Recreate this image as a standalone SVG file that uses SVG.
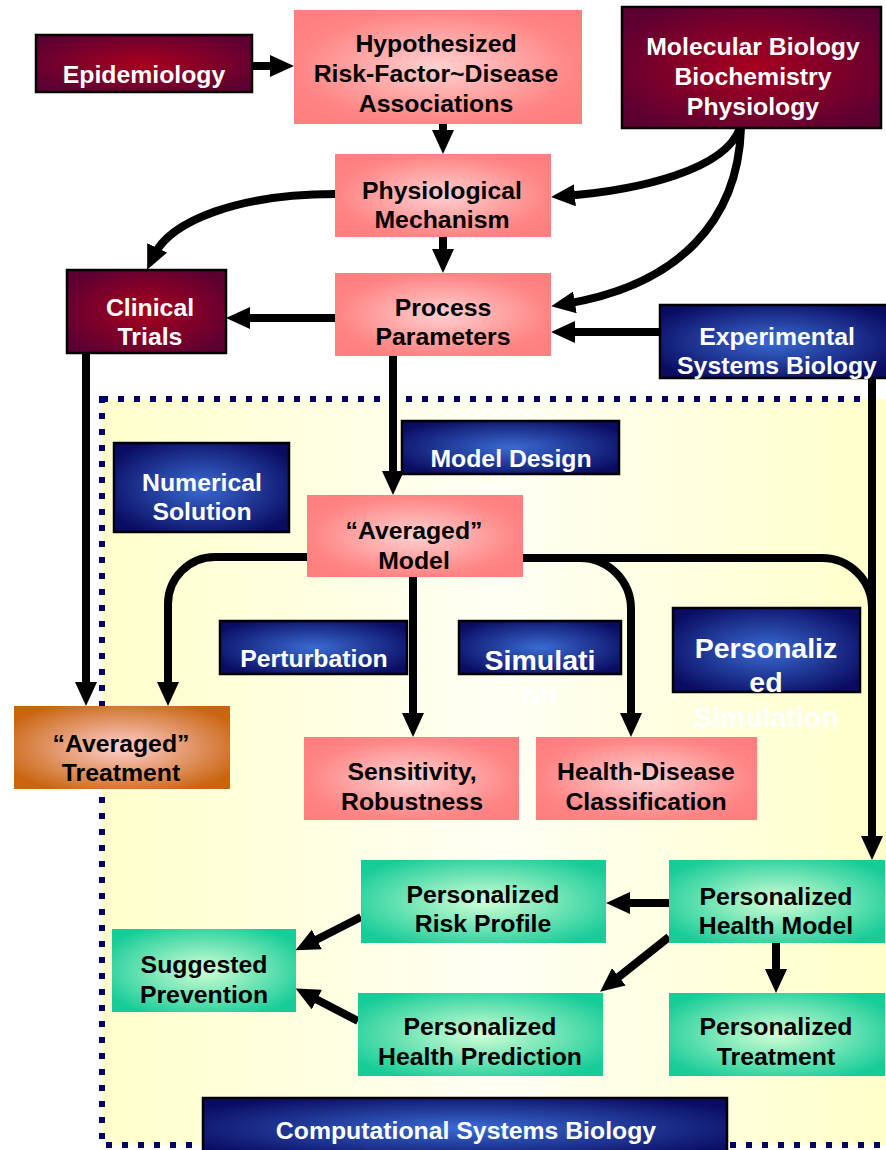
<svg xmlns="http://www.w3.org/2000/svg" width="886" height="1150" viewBox="0 0 886 1150">
<defs>
<radialGradient id="gPink" cx="0.5" cy="0.5" r="0.6"><stop offset="0" stop-color="#ffd0d0"/><stop offset="0.8" stop-color="#ff8585"/><stop offset="1" stop-color="#ff7f7f"/></radialGradient>
<radialGradient id="gMaroon" cx="0.5" cy="0.5" r="0.6"><stop offset="0" stop-color="#a8001e"/><stop offset="1" stop-color="#5c0032"/></radialGradient>
<radialGradient id="gBlue" cx="0.5" cy="0.5" r="0.6"><stop offset="0" stop-color="#3a6bd2"/><stop offset="1" stop-color="#0a0c62"/></radialGradient>
<radialGradient id="gGreen" cx="0.5" cy="0.5" r="0.6"><stop offset="0" stop-color="#d2ffd6"/><stop offset="1" stop-color="#18cc98"/></radialGradient>
<radialGradient id="gOrange" cx="0.5" cy="0.5" r="0.6"><stop offset="0" stop-color="#ffd0d0"/><stop offset="1" stop-color="#c9640f"/></radialGradient>
<linearGradient id="gYellow" x1="0" y1="0" x2="1" y2="0"><stop offset="0" stop-color="#ffffcc"/><stop offset="0.5" stop-color="#fffff4"/><stop offset="1" stop-color="#ffffc8"/></linearGradient>
<marker id="arr" viewBox="0 0 24 22" refX="10" refY="11" markerWidth="24" markerHeight="22" markerUnits="userSpaceOnUse" orient="auto"><path d="M0,0 L24,11 L0,22 z" fill="#000"/></marker>
<style>
.t{font-family:"Liberation Sans",Arial,sans-serif;font-weight:bold;font-size:24.8px;text-anchor:middle}
.k{fill:#000}
.w{fill:#fff}
.big{font-size:28.5px}
.pink{fill:url(#gPink)}
.maroon{fill:url(#gMaroon);stroke:#000;stroke-width:2.5}
.blue{fill:url(#gBlue);stroke:#000;stroke-width:2.5}
.green{fill:url(#gGreen)}
.orange{fill:url(#gOrange)}
.c{fill:none;stroke:#000;stroke-width:8}
.a{marker-end:url(#arr)}
</style>
</defs>
<rect width="886" height="1150" fill="#fff"/>
<g id="frame">
<rect x="102" y="399" width="800" height="746" fill="url(#gYellow)" stroke="#000066" stroke-width="6" stroke-dasharray="6 10"/>
</g>
<g id="connectors">
<path class="c a" d="M252,66 L280,66"/>
<path class="c a" d="M443,124 L443,140"/>
<path class="c a" d="M443,237 L443,259"/>
<path class="c a" d="M335,318 L240,318"/>
<path class="c a" d="M335,194 C240,194 170,220 153,257"/>
<path class="c a" d="M740,128 C725,170 640,190 565,196"/>
<path class="c a" d="M741,128 C738,220 680,285 565,304"/>
<path class="c a" d="M660,332 L565,332"/>
<path class="c a" d="M393,356 L393,481"/>
<path class="c a" d="M86,353 L86,692"/>
<path class="c a" d="M307,557 L215,557 A47,47 0 0 0 168,604 L168,692"/>
<path class="c a" d="M413,577 L413,723"/>
<path class="c a" d="M522,558 L580,558 A51,51 0 0 1 631,609 L631,723"/>
<path class="c" d="M580,558 L822,558 A50,50 0 0 1 872,608"/>
<path class="c a" d="M872,378 L872,846"/>
<path class="c a" d="M669,903 L620,903"/>
<path class="c a" d="M669,937 L611,983"/>
<path class="c a" d="M776,943 L776,979"/>
<path class="c a" d="M361,917 L308,944"/>
<path class="c a" d="M358,1021 L308,995"/>
</g>
<g id="epidemiology"><rect class="maroon" x="36" y="35" width="216" height="57"/><text class="t w" x="144" y="83">Epidemiology</text></g>
<g id="hypothesized"><rect class="pink" x="294" y="10" width="288" height="114"/><text class="t k" x="436" y="52">Hypothesized</text><text class="t k" x="436" y="82">Risk-Factor~Disease</text><text class="t k" x="436" y="112">Associations</text></g>
<g id="molecular"><rect class="maroon" x="622" y="7" width="259" height="121"/><text class="t w" x="753" y="55">Molecular Biology</text><text class="t w" x="753" y="85">Biochemistry</text><text class="t w" x="753" y="115">Physiology</text></g>
<g id="physiological"><rect class="pink" x="335" y="154" width="216" height="83"/><text class="t k" x="442" y="199">Physiological</text><text class="t k" x="442" y="228">Mechanism</text></g>
<g id="process"><rect class="pink" x="335" y="273" width="216" height="83"/><text class="t k" x="443" y="316">Process</text><text class="t k" x="443" y="345">Parameters</text></g>
<g id="clinical"><rect class="maroon" x="67" y="270" width="159" height="83"/><text class="t w" x="150" y="316">Clinical</text><text class="t w" x="150" y="345">Trials</text></g>
<g id="experimental"><rect class="blue" x="660" y="305" width="228" height="73"/><text class="t w" x="777" y="345">Experimental</text><text class="t w" x="777" y="374">Systems Biology</text></g>
<g id="numerical"><rect class="blue" x="114" y="443" width="175" height="89"/><text class="t w" x="202" y="491">Numerical</text><text class="t w" x="202" y="520">Solution</text></g>
<g id="modeldesign"><rect class="blue" x="402" y="421" width="217" height="53"/><text class="t w" x="511" y="467">Model Design</text></g>
<g id="averagedmodel"><rect class="pink" x="307" y="495" width="216" height="82"/><text class="t k" x="414" y="539">“Averaged”</text><text class="t k" x="414" y="569">Model</text></g>
<g id="perturbation"><rect class="blue" x="220" y="621" width="187" height="53"/><text class="t w" x="314" y="667">Perturbation</text></g>
<g id="simulation"><rect class="blue" x="459" y="621" width="162" height="53"/><text class="t w big" x="540" y="670">Simulati</text><text class="t w big" x="540" y="705">on</text></g>
<g id="personalizedsim"><rect class="blue" x="673" y="608" width="187" height="84"/><text class="t w big" x="766" y="658">Personaliz</text><text class="t w big" x="766" y="692">ed</text><text class="t w big" x="766" y="727">Simulation</text></g>
<g id="averagedtreatment"><rect class="orange" x="14" y="706" width="216" height="83"/><text class="t k" x="121" y="752">“Averaged”</text><text class="t k" x="121" y="781">Treatment</text></g>
<g id="sensitivity"><rect class="pink" x="304" y="737" width="215" height="83"/><text class="t k" x="412" y="780">Sensitivity,</text><text class="t k" x="412" y="810">Robustness</text></g>
<g id="healthdisease"><rect class="pink" x="536" y="737" width="221" height="83"/><text class="t k" x="646" y="780">Health-Disease</text><text class="t k" x="646" y="810">Classification</text></g>
<g id="riskprofile"><rect class="green" x="361" y="860" width="245" height="83"/><text class="t k" x="483" y="903">Personalized</text><text class="t k" x="483" y="932">Risk Profile</text></g>
<g id="healthmodel"><rect class="green" x="669" y="860" width="216" height="83"/><text class="t k" x="776" y="905">Personalized</text><text class="t k" x="776" y="934">Health Model</text></g>
<g id="suggested"><rect class="green" x="112" y="929" width="184" height="83"/><text class="t k" x="204" y="973">Suggested</text><text class="t k" x="204" y="1003">Prevention</text></g>
<g id="prediction"><rect class="green" x="358" y="993" width="245" height="83"/><text class="t k" x="480" y="1035">Personalized</text><text class="t k" x="480" y="1065">Health Prediction</text></g>
<g id="ptreatment"><rect class="green" x="669" y="993" width="216" height="83"/><text class="t k" x="776" y="1035">Personalized</text><text class="t k" x="776" y="1065">Treatment</text></g>
<g id="computational"><rect class="blue" x="203" y="1098" width="524" height="60"/><text class="t w" x="466" y="1139">Computational Systems Biology</text></g>
</svg>
